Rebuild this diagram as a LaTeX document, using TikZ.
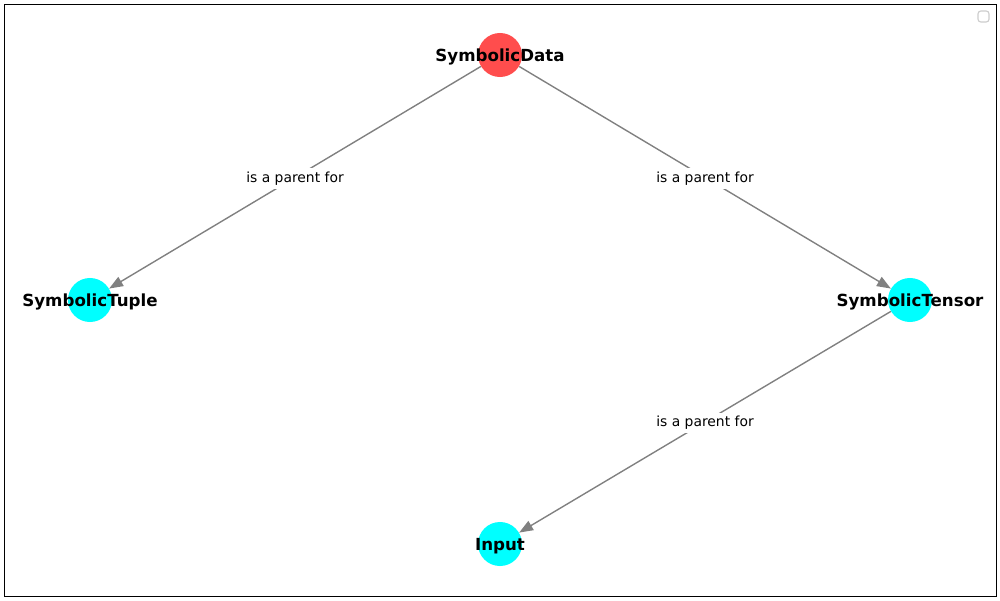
\documentclass[tikz,border=0pt]{standalone}
\usepackage{fontspec}
\setmainfont{DejaVu Sans}
\usetikzlibrary{arrows.meta}
\definecolor{nodered}{HTML}{FF4D4D}
\definecolor{nodecyan}{HTML}{00FFFF}
\definecolor{edgegray}{HTML}{808080}
\definecolor{legendgray}{HTML}{CCCCCC}
\tikzset{
  gnode/.style={circle, minimum size=31.7pt, inner sep=0pt, draw=none},
  nlabel/.style={font=\fontsize{12}{14}\selectfont\bfseries, text=black, yshift=-1.3pt},
  gedge/.style={draw=edgegray, line width=1pt, -{Triangle[length=10pt,width=7.5pt]}},
  elabel/.style={fill=white, font=\fontsize{10}{12}\selectfont, text=black, inner sep=2.5pt, yshift=-0.8pt}
}
\begin{document}
\begin{tikzpicture}[x=0.72pt,y=-0.72pt]
\useasboundingbox (0,0) rectangle (1000,600);
\draw[black, line width=0.7pt] (4,4) rectangle (996,596);
\draw[legendgray, line width=0.8pt, rounded corners=2pt] (978,11) rectangle (989,22);

\node[gnode, fill=nodered, label={[nlabel]center:SymbolicData}] (sd) at (500,55) {};
\node[gnode, fill=nodecyan, label={[nlabel]center:SymbolicTuple}] (st) at (90,300) {};
\node[gnode, fill=nodecyan, label={[nlabel]center:SymbolicTensor}] (sten) at (910,300) {};
\node[gnode, fill=nodecyan, label={[nlabel]center:Input}] (inp) at (500,544) {};

\draw[gedge] (sd) -- node[elabel] {is a parent for} (st);
\draw[gedge] (sd) -- node[elabel] {is a parent for} (sten);
\draw[gedge] (sten) -- node[elabel] {is a parent for} (inp);
\end{tikzpicture}
\end{document}
